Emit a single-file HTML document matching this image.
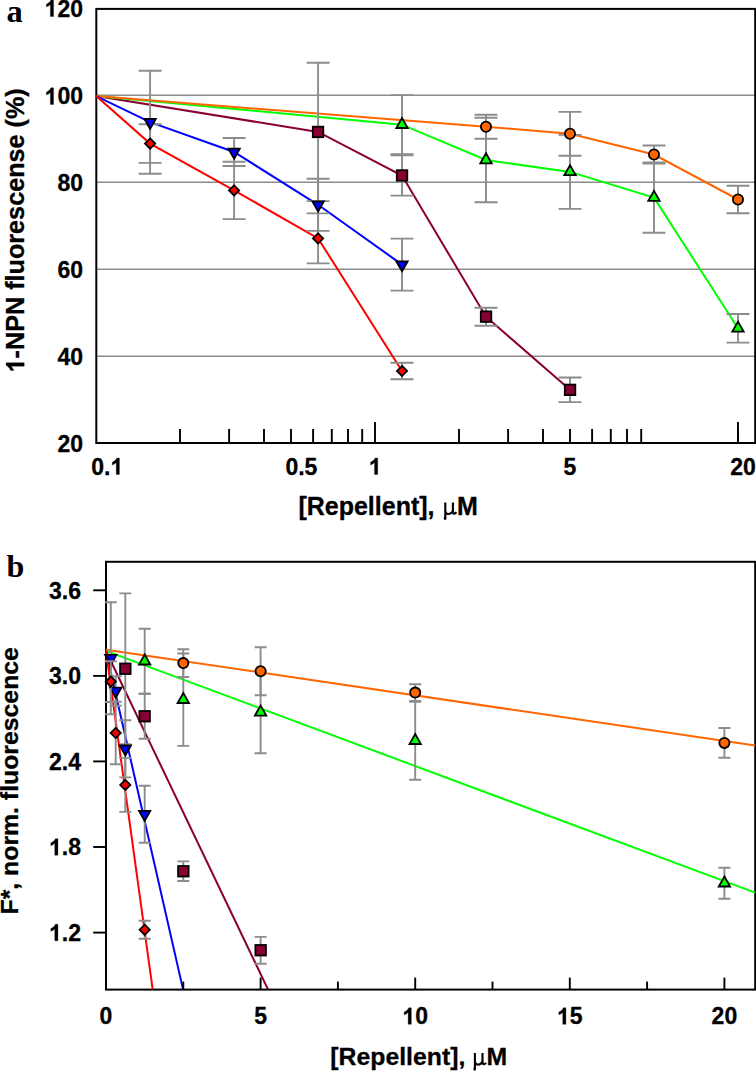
<!DOCTYPE html>
<html><head><meta charset="utf-8"><style>
html,body{margin:0;padding:0;background:#fff;}
svg{display:block;}
</style></head><body>
<svg width="756" height="1071" viewBox="0 0 756 1071">
<rect width="756" height="1071" fill="#fff"/>
<defs><clipPath id="ca"><rect x="90" y="0" width="666" height="443.5"/></clipPath><clipPath id="cb"><rect x="100" y="555" width="656" height="434.6"/></clipPath></defs>
<path d="M96.3 95.3H755.2" stroke="#8c8c8c" stroke-width="1.6"/>
<path d="M96.3 182.2H755.2" stroke="#8c8c8c" stroke-width="1.6"/>
<path d="M96.3 269.2H755.2" stroke="#8c8c8c" stroke-width="1.6"/>
<path d="M96.3 356.2H755.2" stroke="#8c8c8c" stroke-width="1.6"/>
<rect x="96.3" y="8.9" width="658.9" height="434.1" fill="none" stroke="#000" stroke-width="2"/>
<g clip-path="url(#ca)">
<path d="M96.2 96.1L318.1 131.9L402.0 175.5L486.0 316.7L570.0 389.8" stroke="#8a0034" stroke-width="2" fill="none"/>
<path d="M96.2 96.1L402.0 124.7L486.0 160.0L570.0 171.9L654.0 197.6L738.0 328.3" stroke="#00ff00" stroke-width="2" fill="none"/>
<path d="M96.2 96.1L486.0 126.7L570.0 133.8L654.0 154.5L738.0 199.5" stroke="#ff6600" stroke-width="2" fill="none"/>
<path d="M96.2 96.1L150.1 122.2L234.1 152.0L318.1 204.8L402.0 264.6" stroke="#0000ff" stroke-width="2" fill="none"/>
<path d="M96.2 96.1L150.1 143.6L234.1 190.4L318.1 238.4L402.0 371.0" stroke="#ff0000" stroke-width="2" fill="none"/>
<path d="M318.1 62.7V201.1M306.6 62.7H329.6M306.6 201.1H329.6" stroke="#8c8c8c" stroke-width="1.9" fill="none"/>
<path d="M402.0 155.4V195.6M390.5 155.4H413.5M390.5 195.6H413.5" stroke="#8c8c8c" stroke-width="1.9" fill="none"/>
<path d="M486.0 307.7V325.7M474.5 307.7H497.5M474.5 325.7H497.5" stroke="#8c8c8c" stroke-width="1.9" fill="none"/>
<path d="M570.0 377.5V402.1M558.5 377.5H581.5M558.5 402.1H581.5" stroke="#8c8c8c" stroke-width="1.9" fill="none"/>
<path d="M402.0 95.1V154.3M390.5 95.1H413.5M390.5 154.3H413.5" stroke="#8c8c8c" stroke-width="1.9" fill="none"/>
<path d="M486.0 117.7V202.3M474.5 117.7H497.5M474.5 202.3H497.5" stroke="#8c8c8c" stroke-width="1.9" fill="none"/>
<path d="M570.0 134.9V208.9M558.5 134.9H581.5M558.5 208.9H581.5" stroke="#8c8c8c" stroke-width="1.9" fill="none"/>
<path d="M654.0 162.4V232.8M642.5 162.4H665.5M642.5 232.8H665.5" stroke="#8c8c8c" stroke-width="1.9" fill="none"/>
<path d="M738.0 314.0V342.6M726.5 314.0H749.5M726.5 342.6H749.5" stroke="#8c8c8c" stroke-width="1.9" fill="none"/>
<path d="M486.0 114.7V138.7M474.5 114.7H497.5M474.5 138.7H497.5" stroke="#8c8c8c" stroke-width="1.9" fill="none"/>
<path d="M570.0 111.9V155.7M558.5 111.9H581.5M558.5 155.7H581.5" stroke="#8c8c8c" stroke-width="1.9" fill="none"/>
<path d="M654.0 145.5V163.5M642.5 145.5H665.5M642.5 163.5H665.5" stroke="#8c8c8c" stroke-width="1.9" fill="none"/>
<path d="M738.0 185.8V213.2M726.5 185.8H749.5M726.5 213.2H749.5" stroke="#8c8c8c" stroke-width="1.9" fill="none"/>
<path d="M150.1 70.7V173.7M138.6 70.7H161.6M138.6 173.7H161.6" stroke="#8c8c8c" stroke-width="1.9" fill="none"/>
<path d="M234.1 138.0V166.0M222.6 138.0H245.6M222.6 166.0H245.6" stroke="#8c8c8c" stroke-width="1.9" fill="none"/>
<path d="M318.1 178.7V230.9M306.6 178.7H329.6M306.6 230.9H329.6" stroke="#8c8c8c" stroke-width="1.9" fill="none"/>
<path d="M402.0 238.6V290.6M390.5 238.6H413.5M390.5 290.6H413.5" stroke="#8c8c8c" stroke-width="1.9" fill="none"/>
<path d="M150.1 124.3V162.9M138.6 124.3H161.6M138.6 162.9H161.6" stroke="#8c8c8c" stroke-width="1.9" fill="none"/>
<path d="M234.1 161.7V219.1M222.6 161.7H245.6M222.6 219.1H245.6" stroke="#8c8c8c" stroke-width="1.9" fill="none"/>
<path d="M318.1 213.4V263.4M306.6 213.4H329.6M306.6 263.4H329.6" stroke="#8c8c8c" stroke-width="1.9" fill="none"/>
<path d="M402.0 362.8V379.2M390.5 362.8H413.5M390.5 379.2H413.5" stroke="#8c8c8c" stroke-width="1.9" fill="none"/>
<rect x="312.8" y="126.7" width="10.5" height="10.5" fill="#8a0034" stroke="#000" stroke-width="1.8"/>
<rect x="396.8" y="170.2" width="10.5" height="10.5" fill="#8a0034" stroke="#000" stroke-width="1.8"/>
<rect x="480.8" y="311.4" width="10.5" height="10.5" fill="#8a0034" stroke="#000" stroke-width="1.8"/>
<rect x="564.8" y="384.6" width="10.5" height="10.5" fill="#8a0034" stroke="#000" stroke-width="1.8"/>
<path d="M402.0 118.0L407.7 128.0L396.3 128.0Z" fill="#00ff00" stroke="#000" stroke-width="1.8"/>
<path d="M486.0 153.3L491.7 163.3L480.3 163.3Z" fill="#00ff00" stroke="#000" stroke-width="1.8"/>
<path d="M570.0 165.2L575.7 175.2L564.3 175.2Z" fill="#00ff00" stroke="#000" stroke-width="1.8"/>
<path d="M654.0 190.9L659.7 200.9L648.3 200.9Z" fill="#00ff00" stroke="#000" stroke-width="1.8"/>
<path d="M738.0 321.6L743.7 331.6L732.3 331.6Z" fill="#00ff00" stroke="#000" stroke-width="1.8"/>
<circle cx="486.0" cy="126.7" r="5.1" fill="#ff6600" stroke="#000" stroke-width="1.8"/>
<circle cx="570.0" cy="133.8" r="5.1" fill="#ff6600" stroke="#000" stroke-width="1.8"/>
<circle cx="654.0" cy="154.5" r="5.1" fill="#ff6600" stroke="#000" stroke-width="1.8"/>
<circle cx="738.0" cy="199.5" r="5.1" fill="#ff6600" stroke="#000" stroke-width="1.8"/>
<path d="M150.1 128.9L155.8 118.9L144.4 118.9Z" fill="#0000ff" stroke="#000" stroke-width="1.8"/>
<path d="M234.1 158.7L239.8 148.7L228.4 148.7Z" fill="#0000ff" stroke="#000" stroke-width="1.8"/>
<path d="M318.1 211.5L323.8 201.5L312.4 201.5Z" fill="#0000ff" stroke="#000" stroke-width="1.8"/>
<path d="M402.0 271.3L407.7 261.3L396.3 261.3Z" fill="#0000ff" stroke="#000" stroke-width="1.8"/>
<path d="M150.1 138.5L155.2 143.6L150.1 148.7L145.0 143.6Z" fill="#ff0000" stroke="#000" stroke-width="1.8"/>
<path d="M234.1 185.3L239.2 190.4L234.1 195.5L229.0 190.4Z" fill="#ff0000" stroke="#000" stroke-width="1.8"/>
<path d="M318.1 233.3L323.2 238.4L318.1 243.5L313.0 238.4Z" fill="#ff0000" stroke="#000" stroke-width="1.8"/>
<path d="M402.0 365.9L407.1 371.0L402.0 376.1L396.9 371.0Z" fill="#ff0000" stroke="#000" stroke-width="1.8"/>
</g>
<path d="M180.0 429V443" stroke="#000" stroke-width="1.9"/>
<path d="M229.1 429V443" stroke="#000" stroke-width="1.9"/>
<path d="M264.0 429V443" stroke="#000" stroke-width="1.9"/>
<path d="M291.0 429V443" stroke="#000" stroke-width="1.9"/>
<path d="M313.1 429V443" stroke="#000" stroke-width="1.9"/>
<path d="M331.8 429V443" stroke="#000" stroke-width="1.9"/>
<path d="M348.0 429V443" stroke="#000" stroke-width="1.9"/>
<path d="M362.2 429V443" stroke="#000" stroke-width="1.9"/>
<path d="M459.0 429V443" stroke="#000" stroke-width="1.9"/>
<path d="M508.1 429V443" stroke="#000" stroke-width="1.9"/>
<path d="M543.0 429V443" stroke="#000" stroke-width="1.9"/>
<path d="M570.0 429V443" stroke="#000" stroke-width="1.9"/>
<path d="M592.1 429V443" stroke="#000" stroke-width="1.9"/>
<path d="M610.8 429V443" stroke="#000" stroke-width="1.9"/>
<path d="M627.0 429V443" stroke="#000" stroke-width="1.9"/>
<path d="M641.2 429V443" stroke="#000" stroke-width="1.9"/>
<path d="M738.0 429V443" stroke="#000" stroke-width="1.9"/>
<path d="M375.0 422V443" stroke="#000" stroke-width="1.9"/>
<path d="M738.0 422V443" stroke="#000" stroke-width="1.9"/>
<rect x="106" y="561.8" width="649.2" height="427.8" fill="none" stroke="#000" stroke-width="2"/>
<g clip-path="url(#cb)">
<path d="M106.0 649.7L755.2 745.6" stroke="#ff6600" stroke-width="2" fill="none"/>
<path d="M106.0 650.9L755.2 892.6" stroke="#00ff00" stroke-width="2" fill="none"/>
<path d="M106.0 651.0L268.1 989.6" stroke="#8a0034" stroke-width="2" fill="none"/>
<path d="M106.0 651.5L183.1 989.6" stroke="#0000ff" stroke-width="2" fill="none"/>
<path d="M106.0 651.0L152.7 989.6" stroke="#ff0000" stroke-width="2" fill="none"/>
</g>
<path d="M144.7 628.7V693.7M138.7 628.7H150.7M138.7 693.7H150.7" stroke="#8c8c8c" stroke-width="1.9" fill="none"/>
<path d="M183.3 653.5V745.9M177.3 653.5H189.3M177.3 745.9H189.3" stroke="#8c8c8c" stroke-width="1.9" fill="none"/>
<path d="M260.6 671.3V753.3M254.6 671.3H266.6M254.6 753.3H266.6" stroke="#8c8c8c" stroke-width="1.9" fill="none"/>
<path d="M415.2 701.7V779.7M409.2 701.7H421.2M409.2 779.7H421.2" stroke="#8c8c8c" stroke-width="1.9" fill="none"/>
<path d="M724.4 867.7V898.7M718.4 867.7H730.4M718.4 898.7H730.4" stroke="#8c8c8c" stroke-width="1.9" fill="none"/>
<path d="M144.7 654.5L150.3 664.5L139.0 664.5Z" fill="#00ff00" stroke="#000" stroke-width="1.8"/>
<path d="M183.3 693.0L189.0 703.0L177.6 703.0Z" fill="#00ff00" stroke="#000" stroke-width="1.8"/>
<path d="M260.6 705.6L266.3 715.6L254.9 715.6Z" fill="#00ff00" stroke="#000" stroke-width="1.8"/>
<path d="M415.2 734.0L420.9 744.0L409.5 744.0Z" fill="#00ff00" stroke="#000" stroke-width="1.8"/>
<path d="M724.4 876.5L730.1 886.5L718.7 886.5Z" fill="#00ff00" stroke="#000" stroke-width="1.8"/>
<path d="M183.3 649.2V677.0M177.3 649.2H189.3M177.3 677.0H189.3" stroke="#8c8c8c" stroke-width="1.9" fill="none"/>
<path d="M260.6 647.3V695.3M254.6 647.3H266.6M254.6 695.3H266.6" stroke="#8c8c8c" stroke-width="1.9" fill="none"/>
<path d="M415.2 684.3V700.9M409.2 684.3H421.2M409.2 700.9H421.2" stroke="#8c8c8c" stroke-width="1.9" fill="none"/>
<path d="M724.4 728.0V757.8M718.4 728.0H730.4M718.4 757.8H730.4" stroke="#8c8c8c" stroke-width="1.9" fill="none"/>
<circle cx="183.3" cy="663.1" r="5.1" fill="#ff6600" stroke="#000" stroke-width="1.8"/>
<circle cx="260.6" cy="671.3" r="5.1" fill="#ff6600" stroke="#000" stroke-width="1.8"/>
<circle cx="415.2" cy="692.6" r="5.1" fill="#ff6600" stroke="#000" stroke-width="1.8"/>
<circle cx="724.4" cy="742.9" r="5.1" fill="#ff6600" stroke="#000" stroke-width="1.8"/>
<path d="M125.3 593.4V744.2M119.3 593.4H131.3M119.3 744.2H131.3" stroke="#8c8c8c" stroke-width="1.9" fill="none"/>
<path d="M144.7 693.8V738.8M138.7 693.8H150.7M138.7 738.8H150.7" stroke="#8c8c8c" stroke-width="1.9" fill="none"/>
<path d="M183.3 861.4V881.0M177.3 861.4H189.3M177.3 881.0H189.3" stroke="#8c8c8c" stroke-width="1.9" fill="none"/>
<path d="M260.6 936.9V963.7M254.6 936.9H266.6M254.6 963.7H266.6" stroke="#8c8c8c" stroke-width="1.9" fill="none"/>
<rect x="120.1" y="663.5" width="10.5" height="10.5" fill="#8a0034" stroke="#000" stroke-width="1.8"/>
<rect x="139.4" y="711.0" width="10.5" height="10.5" fill="#8a0034" stroke="#000" stroke-width="1.8"/>
<rect x="178.1" y="866.0" width="10.5" height="10.5" fill="#8a0034" stroke="#000" stroke-width="1.8"/>
<rect x="255.4" y="945.0" width="10.5" height="10.5" fill="#8a0034" stroke="#000" stroke-width="1.8"/>
<path d="M110.8 602.2V714.2M104.8 602.2H116.8M104.8 714.2H116.8" stroke="#8c8c8c" stroke-width="1.9" fill="none"/>
<path d="M115.7 676.2V705.8M109.7 676.2H121.7M109.7 705.8H121.7" stroke="#8c8c8c" stroke-width="1.9" fill="none"/>
<path d="M125.3 720.2V777.4M119.3 720.2H131.3M119.3 777.4H131.3" stroke="#8c8c8c" stroke-width="1.9" fill="none"/>
<path d="M144.7 785.7V842.7M138.7 785.7H150.7M138.7 842.7H150.7" stroke="#8c8c8c" stroke-width="1.9" fill="none"/>
<path d="M110.8 664.9L116.5 654.9L105.1 654.9Z" fill="#0000ff" stroke="#000" stroke-width="1.8"/>
<path d="M115.7 697.7L121.4 687.7L110.0 687.7Z" fill="#0000ff" stroke="#000" stroke-width="1.8"/>
<path d="M125.3 755.5L131.0 745.5L119.6 745.5Z" fill="#0000ff" stroke="#000" stroke-width="1.8"/>
<path d="M144.7 820.9L150.3 810.9L139.0 810.9Z" fill="#0000ff" stroke="#000" stroke-width="1.8"/>
<path d="M110.8 661.2V702.0M104.8 661.2H116.8M104.8 702.0H116.8" stroke="#8c8c8c" stroke-width="1.9" fill="none"/>
<path d="M115.7 701.8V764.2M109.7 701.8H121.7M109.7 764.2H121.7" stroke="#8c8c8c" stroke-width="1.9" fill="none"/>
<path d="M125.3 757.9V811.9M119.3 757.9H131.3M119.3 811.9H131.3" stroke="#8c8c8c" stroke-width="1.9" fill="none"/>
<path d="M144.7 920.8V938.8M138.7 920.8H150.7M138.7 938.8H150.7" stroke="#8c8c8c" stroke-width="1.9" fill="none"/>
<path d="M110.8 676.5L115.9 681.6L110.8 686.7L105.7 681.6Z" fill="#ff0000" stroke="#000" stroke-width="1.8"/>
<path d="M115.7 727.9L120.8 733.0L115.7 738.1L110.6 733.0Z" fill="#ff0000" stroke="#000" stroke-width="1.8"/>
<path d="M125.3 779.8L130.4 784.9L125.3 790.0L120.2 784.9Z" fill="#ff0000" stroke="#000" stroke-width="1.8"/>
<path d="M144.7 924.7L149.8 929.8L144.7 934.9L139.6 929.8Z" fill="#ff0000" stroke="#000" stroke-width="1.8"/>
<path d="M183.3 981.6V989.6" stroke="#000" stroke-width="1.9"/>
<path d="M260.6 977.6V989.6" stroke="#000" stroke-width="1.9"/>
<path d="M337.9 981.6V989.6" stroke="#000" stroke-width="1.9"/>
<path d="M415.2 977.6V989.6" stroke="#000" stroke-width="1.9"/>
<path d="M492.5 981.6V989.6" stroke="#000" stroke-width="1.9"/>
<path d="M569.8 977.6V989.6" stroke="#000" stroke-width="1.9"/>
<path d="M647.1 981.6V989.6" stroke="#000" stroke-width="1.9"/>
<path d="M724.4 977.6V989.6" stroke="#000" stroke-width="1.9"/>
<path d="M93.2 932.6H106" stroke="#000" stroke-width="1.9"/>
<path d="M93.2 847.0H106" stroke="#000" stroke-width="1.9"/>
<path d="M93.2 761.4H106" stroke="#000" stroke-width="1.9"/>
<path d="M93.2 675.9H106" stroke="#000" stroke-width="1.9"/>
<path d="M93.2 590.3H106" stroke="#000" stroke-width="1.9"/>
<text x="6.6" y="21.7" font-size="32.5" text-anchor="start" font-family="Liberation Serif, serif" font-weight="bold" >a</text>
<text x="6.5" y="577" font-size="32" text-anchor="start" font-family="Liberation Serif, serif" font-weight="bold" >b</text>
<path d="M793 0H512V1059Q358 915 159 846V1101Q259 1137 388 1237Q517 1337 565 1472H793Z" transform="translate(44.63 16.5) scale(0.01123 -0.01123)" fill="#000" stroke="#000" stroke-width="26.7"/>
<text x="57.42" y="16.5" font-size="23" text-anchor="start" font-family="Liberation Sans, sans-serif" font-weight="bold" stroke="#000" stroke-width="0.3" >20</text>
<path d="M793 0H512V1059Q358 915 159 846V1101Q259 1137 388 1237Q517 1337 565 1472H793Z" transform="translate(44.63 104.4) scale(0.01123 -0.01123)" fill="#000" stroke="#000" stroke-width="26.7"/>
<text x="57.42" y="104.4" font-size="23" text-anchor="start" font-family="Liberation Sans, sans-serif" font-weight="bold" stroke="#000" stroke-width="0.3" >00</text>
<text x="57.42" y="191.3" font-size="23" text-anchor="start" font-family="Liberation Sans, sans-serif" font-weight="bold" stroke="#000" stroke-width="0.3" >80</text>
<text x="57.42" y="278.3" font-size="23" text-anchor="start" font-family="Liberation Sans, sans-serif" font-weight="bold" stroke="#000" stroke-width="0.3" >60</text>
<text x="57.42" y="365.3" font-size="23" text-anchor="start" font-family="Liberation Sans, sans-serif" font-weight="bold" stroke="#000" stroke-width="0.3" >40</text>
<text x="57.42" y="452.2" font-size="23" text-anchor="start" font-family="Liberation Sans, sans-serif" font-weight="bold" stroke="#000" stroke-width="0.3" >20</text>
<text x="91.31" y="474.5" font-size="23" text-anchor="start" font-family="Liberation Sans, sans-serif" font-weight="bold" stroke="#000" stroke-width="0.3" >0.</text>
<path d="M793 0H512V1059Q358 915 159 846V1101Q259 1137 388 1237Q517 1337 565 1472H793Z" transform="translate(110.50 474.5) scale(0.01123 -0.01123)" fill="#000" stroke="#000" stroke-width="26.7"/>
<text x="285.41" y="474.5" font-size="23" text-anchor="start" font-family="Liberation Sans, sans-serif" font-weight="bold" stroke="#000" stroke-width="0.3" >0.5</text>
<path d="M793 0H512V1059Q358 915 159 846V1101Q259 1137 388 1237Q517 1337 565 1472H793Z" transform="translate(368.80 474.5) scale(0.01123 -0.01123)" fill="#000" stroke="#000" stroke-width="26.7"/>
<text x="563.4" y="474.5" font-size="23" text-anchor="start" font-family="Liberation Sans, sans-serif" font-weight="bold" stroke="#000" stroke-width="0.3" >5</text>
<text x="730.21" y="474.5" font-size="23" text-anchor="start" font-family="Liberation Sans, sans-serif" font-weight="bold" stroke="#000" stroke-width="0.3" >20</text>
<path d="M793 0H512V1059Q358 915 159 846V1101Q259 1137 388 1237Q517 1337 565 1472H793Z" transform="translate(49.03 940.8) scale(0.01123 -0.01123)" fill="#000" stroke="#000" stroke-width="26.7"/>
<text x="61.82" y="940.8" font-size="23" text-anchor="start" font-family="Liberation Sans, sans-serif" font-weight="bold" stroke="#000" stroke-width="0.3" >.2</text>
<path d="M793 0H512V1059Q358 915 159 846V1101Q259 1137 388 1237Q517 1337 565 1472H793Z" transform="translate(49.03 855.2) scale(0.01123 -0.01123)" fill="#000" stroke="#000" stroke-width="26.7"/>
<text x="61.82" y="855.2" font-size="23" text-anchor="start" font-family="Liberation Sans, sans-serif" font-weight="bold" stroke="#000" stroke-width="0.3" >.8</text>
<text x="49.03" y="769.6" font-size="23" text-anchor="start" font-family="Liberation Sans, sans-serif" font-weight="bold" stroke="#000" stroke-width="0.3" >2.4</text>
<text x="49.03" y="684.1" font-size="23" text-anchor="start" font-family="Liberation Sans, sans-serif" font-weight="bold" stroke="#000" stroke-width="0.3" >3.0</text>
<text x="49.03" y="598.5" font-size="23" text-anchor="start" font-family="Liberation Sans, sans-serif" font-weight="bold" stroke="#000" stroke-width="0.3" >3.6</text>
<text x="99.6" y="1024.3" font-size="23" text-anchor="start" font-family="Liberation Sans, sans-serif" font-weight="bold" stroke="#000" stroke-width="0.3" >0</text>
<text x="254.2" y="1024.3" font-size="23" text-anchor="start" font-family="Liberation Sans, sans-serif" font-weight="bold" stroke="#000" stroke-width="0.3" >5</text>
<path d="M793 0H512V1059Q358 915 159 846V1101Q259 1137 388 1237Q517 1337 565 1472H793Z" transform="translate(402.41 1024.3) scale(0.01123 -0.01123)" fill="#000" stroke="#000" stroke-width="26.7"/>
<text x="415.2" y="1024.3" font-size="23" text-anchor="start" font-family="Liberation Sans, sans-serif" font-weight="bold" stroke="#000" stroke-width="0.3" >0</text>
<path d="M793 0H512V1059Q358 915 159 846V1101Q259 1137 388 1237Q517 1337 565 1472H793Z" transform="translate(557.01 1024.3) scale(0.01123 -0.01123)" fill="#000" stroke="#000" stroke-width="26.7"/>
<text x="569.8" y="1024.3" font-size="23" text-anchor="start" font-family="Liberation Sans, sans-serif" font-weight="bold" stroke="#000" stroke-width="0.3" >5</text>
<text x="711.61" y="1024.3" font-size="23" text-anchor="start" font-family="Liberation Sans, sans-serif" font-weight="bold" stroke="#000" stroke-width="0.3" >20</text>
<text x="298.4" y="515.0" font-size="25.0" text-anchor="start" font-family="Liberation Sans, sans-serif" font-weight="bold" stroke="#000" stroke-width="0.3" >[Repellent],</text>
<path d="M445.3 502.5V517.7M445.3 510C445.3 514 447.9 514.3 449.5 513.8C451.5 513.3 452.9 512 452.9 510M452.9 502.5V511.5C452.9 513.9 454.5 514.5 456.5 512.3" stroke="#000" stroke-width="2.1" fill="none"/>
<ellipse cx="445.1" cy="518.3" rx="1.35" ry="1.8" fill="#000"/>
<text x="457.0" y="515.0" font-size="25.0" text-anchor="start" font-family="Liberation Sans, sans-serif" font-weight="bold" stroke="#000" stroke-width="0.3" >M</text>
<text x="330.3" y="1065.0" font-size="24.8" text-anchor="start" font-family="Liberation Sans, sans-serif" font-weight="bold" stroke="#000" stroke-width="0.3" >[Repellent],</text>
<path d="M474.9 1053.1V1068.3M474.9 1060.6C474.9 1064.6 477.5 1064.9 479.1 1064.4C481.1 1063.9 482.5 1062.6 482.5 1060.6M482.5 1053.1V1062.1C482.5 1064.5 484.1 1065.1 486.1 1062.9" stroke="#000" stroke-width="2.1" fill="none"/>
<ellipse cx="474.7" cy="1068.9" rx="1.35" ry="1.8" fill="#000"/>
<text x="486.5" y="1065.0" font-size="24.8" text-anchor="start" font-family="Liberation Sans, sans-serif" font-weight="bold" stroke="#000" stroke-width="0.3" >M</text>
<g transform="translate(24.2 230.3) rotate(-90)">
<path d="M793 0H512V1059Q358 915 159 846V1101Q259 1137 388 1237Q517 1337 565 1472H793Z" transform="translate(-142.14 0) scale(0.01230 -0.01230)" fill="#000" stroke="#000" stroke-width="24.4"/>
<text x="-128.12" y="0" font-size="25.2" text-anchor="start" font-family="Liberation Sans, sans-serif" font-weight="bold" stroke="#000" stroke-width="0.3" >-NPN fluorescense (%)</text>
</g>
<text x="0" y="0" font-size="24.8" text-anchor="middle" font-family="Liberation Sans, sans-serif" font-weight="bold" stroke="#000" stroke-width="0.3" transform="translate(18.3 780.8) rotate(-90)">F*, norm. fluorescence</text>
</svg>
</body></html>
